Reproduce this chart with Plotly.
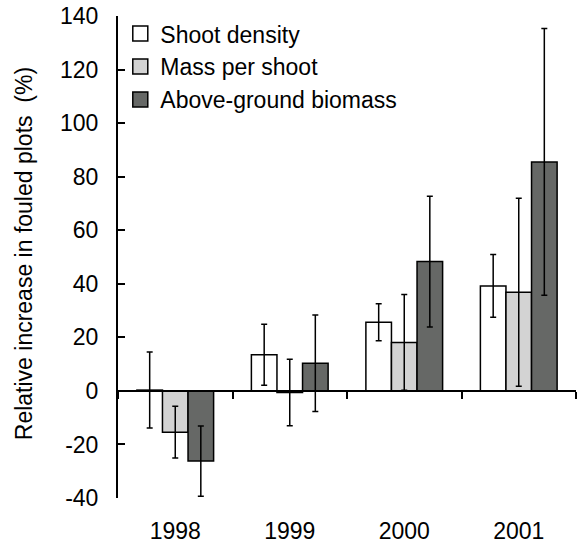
import plotly.graph_objects as go

years = ["1998", "1999", "2000", "2001"]
series_names = ["Shoot density", "Mass per shoot", "Above-ground biomass"]
shoot_density = [0.3, 13.5, 25.6, 39.2]
shoot_density_err = [14.2, 11.4, 6.9, 11.7]
mass_per_shoot = [-15.4, -0.6, 18.1, 36.8]
mass_per_shoot_err = [9.7, 12.4, 17.9, 35.1]
biomass = [-26.2, 10.3, 48.3, 85.5]
biomass_err = [13.1, 18.0, 24.4, 49.8]
colors = ["#ffffff", "#d3d3d3", "#666866"]
y_ticks = list(range(-40, 141, 20))
y_ticktext = [str(v) for v in y_ticks]  # plain hyphen minus like the original
Y_MIN, Y_MAX = -40, 140

FONT = "Liberation Sans, Arial, sans-serif"

fig = go.Figure()
for name, vals, errs, col in zip(series_names,
                                 [shoot_density, mass_per_shoot, biomass],
                                 [shoot_density_err, mass_per_shoot_err, biomass_err],
                                 colors):
    fig.add_trace(go.Bar(
        x=years, y=vals, name=name, showlegend=False,
        marker=dict(color=col, line=dict(color="black", width=1.5)),
        error_y=dict(type="data", array=errs, visible=True,
                     color="black", thickness=1.5, width=3),
    ))

# legend entries (square swatches like the original)
for name, col in zip(series_names, colors):
    fig.add_trace(go.Scatter(
        x=[None], y=[None], name=name, mode="markers",
        marker=dict(symbol="square", size=15, color=col,
                    line=dict(color="black", width=1.5)),
    ))

# invisible trace to carry the zero-line axis with boundary ticks
fig.add_trace(go.Scatter(x=years, y=[0] * len(years), xaxis="x2", mode="none",
                         showlegend=False, hoverinfo="skip"))

fig.update_layout(
    width=577, height=544,
    margin=dict(l=118, r=1, t=16, b=46, autoexpand=False),
    paper_bgcolor="white", plot_bgcolor="white",
    barmode="group", bargap=0.33, bargroupgap=0,
    font=dict(family=FONT, size=23, color="black"),
    showlegend=True,
    legend=dict(x=0.005, y=1.008, xanchor="left", yanchor="top",
                bgcolor="rgba(0,0,0,0)", font=dict(size=23),
                tracegroupgap=0, itemsizing="trace"),
    xaxis=dict(type="category", categoryorder="array", categoryarray=years,
               showline=False, ticks="", showgrid=False, zeroline=False,
               ticklabelstandoff=17, ticklabeloverflow="allow",
               fixedrange=True, automargin=False),
    xaxis2=dict(type="category", categoryorder="array", categoryarray=years,
                overlaying="x", matches="x", anchor="free",
                position=(0 - Y_MIN) / (Y_MAX - Y_MIN),
                showline=True, linecolor="black", linewidth=2,
                ticks="outside", tickson="boundaries", ticklen=7,
                tickwidth=2, tickcolor="black", automargin=False,
                showticklabels=False, showgrid=False, zeroline=False),
    yaxis=dict(range=[Y_MIN, Y_MAX], tickvals=y_ticks, ticktext=y_ticktext,
               ticks="inside", ticklen=7, tickwidth=2, tickcolor="black",
               showline=True, linecolor="black", linewidth=2, automargin=False,
               showgrid=False, zeroline=False, ticklabelstandoff=13,
               ticklabeloverflow="allow"),
    annotations=[dict(text="Relative increase in fouled plots\u00a0\u00a0(%)",
                      textangle=-90, xref="paper", yref="paper",
                      x=-0.205, y=0.506, xanchor="center", yanchor="middle",
                      showarrow=False, font=dict(size=23))],
)

# remove the default 8px page margin so the figure fills the window exactly
fig.write_html("out.html",
               config={"displayModeBar": False, "staticPlot": True},
               post_script="document.body.style.margin='0';"
                           "document.body.style.overflow='hidden';")
